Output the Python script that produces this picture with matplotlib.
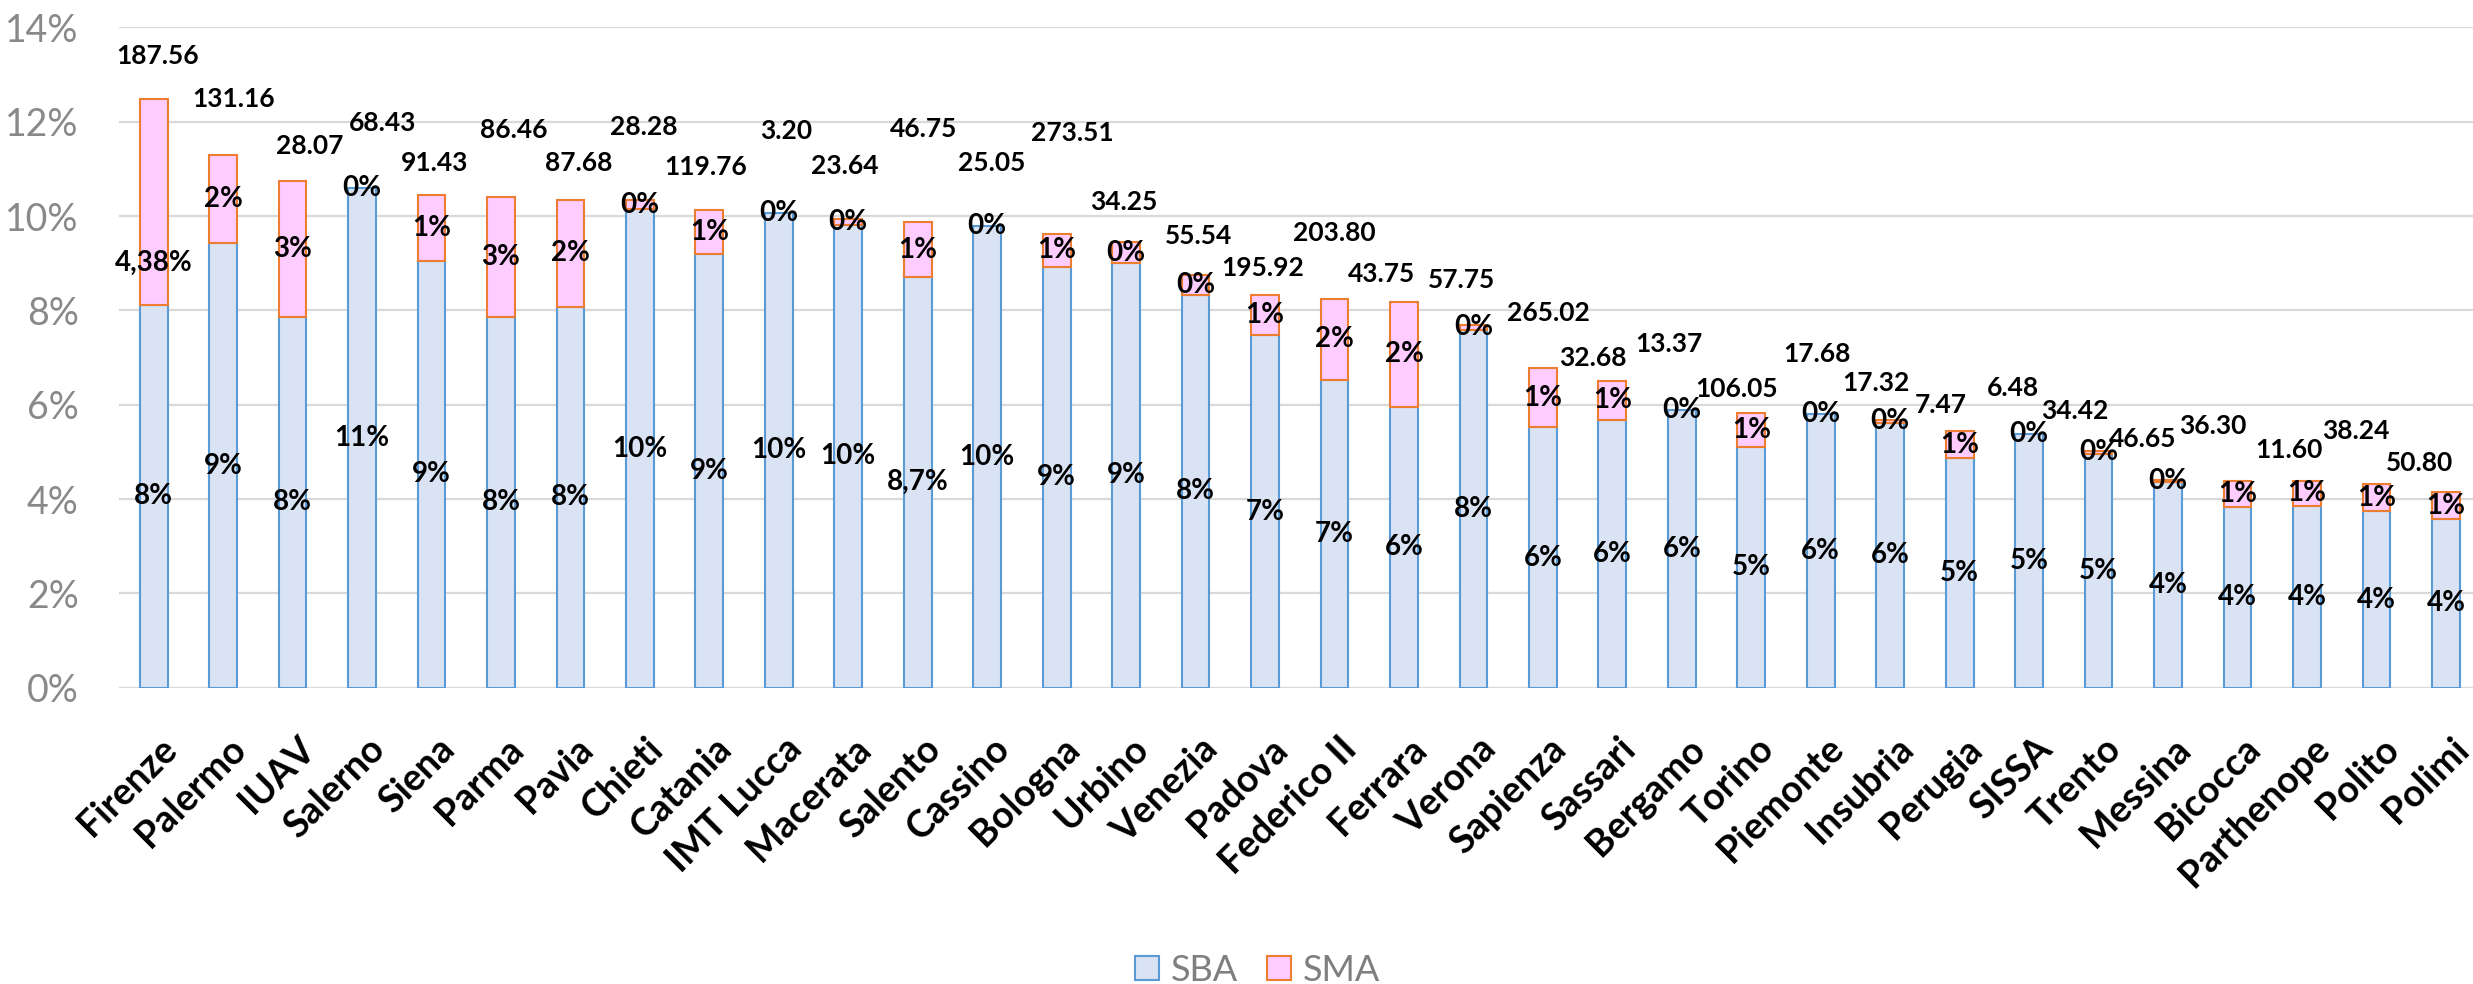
import matplotlib
matplotlib.use("Agg")
import matplotlib.pyplot as plt
import matplotlib.transforms as mtransforms
from matplotlib.patches import Patch
import numpy as np

plt.rcParams['font.family'] = ['Lato', 'DejaVu Sans']

universities = ['Firenze', 'Palermo', 'IUAV', 'Salerno', 'Siena', 'Parma', 'Pavia', 'Chieti',
                'Catania', 'IMT Lucca', 'Macerata', 'Salento', 'Cassino', 'Bologna', 'Urbino',
                'Venezia', 'Padova', 'Federico II', 'Ferrara', 'Verona', 'Sapienza', 'Sassari',
                'Bergamo', 'Torino', 'Piemonte', 'Insubria', 'Perugia', 'SISSA', 'Trento',
                'Messina', 'Bicocca', 'Parthenope', 'Polito', 'Polimi']

# values in percent
sba = [8.12, 9.42, 7.86, 10.59, 9.05, 7.86, 8.07, 10.14, 9.20, 10.07, 9.81, 8.71, 9.79, 8.92,
       9.01, 8.33, 7.47, 6.52, 5.96, 7.58, 5.52, 5.68, 5.89, 5.10, 5.80, 5.61, 4.87, 5.37,
       4.96, 4.36, 3.83, 3.86, 3.74, 3.58]
sma = [4.37, 1.88, 2.88, 0.0, 1.40, 2.55, 2.28, 0.20, 0.92, 0.0, 0.12, 1.16, 0.0, 0.70,
       0.43, 0.43, 0.86, 1.73, 2.21, 0.12, 1.25, 0.83, 0.0, 0.72, 0.0, 0.07, 0.57, 0.0,
       0.06, 0.05, 0.56, 0.53, 0.57, 0.56]

sba_labels = ['8%', '9%', '8%', '11%', '9%', '8%', '8%', '10%', '9%', '10%', '10%', '8,7%',
              '10%', '9%', '9%', '8%', '7%', '7%', '6%', '8%', '6%', '6%', '6%', '5%', '6%',
              '6%', '5%', '5%', '5%', '4%', '4%', '4%', '4%', '4%']
sma_labels = ['4,38%', '2%', '3%', '0%', '1%', '3%', '2%', '0%', '1%', '0%', '0%', '1%', '0%',
              '1%', '0%', '0%', '1%', '2%', '2%', '0%', '1%', '1%', '0%', '1%', '0%', '0%',
              '1%', '0%', '0%', '0%', '1%', '1%', '1%', '1%']
amounts = ['187.56', '131.16', '28.07', '68.43', '91.43', '86.46', '87.68', '28.28', '119.76',
           '3.20', '23.64', '46.75', '25.05', '273.51', '34.25', '55.54', '195.92', '203.80',
           '43.75', '57.75', '265.02', '32.68', '13.37', '106.05', '17.68', '17.32', '7.47',
           '6.48', '34.42', '46.65', '36.30', '11.60', '38.24', '50.80']

# where the amount labels were placed by hand (y in %, x shift in bar slots)
amount_y = [13.39, 12.49, 11.48, 11.98, 11.13, 11.83, 11.13, 11.88, 11.05, 11.81, 11.07, 11.85,
            11.12, 11.75, 10.30, 9.58, 8.89, 9.63, 8.78, 8.64, 7.94, 6.98, 7.29, 6.33, 7.07,
            6.47, 6.00, 6.35, 5.86, 5.27, 5.54, 5.04, 5.44, 4.76]
amount_dx = [0.05, 0.15, 0.25, 0.29, 0.05, 0.18, 0.12, 0.06, -0.06, 0.10, -0.05, 0.08, 0.07,
             0.23, -0.03, 0.04, -0.04, 0.0, -0.32, -0.17, 0.08, -0.28, -0.18, -0.21, -0.06,
             -0.21, -0.27, -0.23, -0.34, -0.37, -0.36, -0.26, -0.30, -0.38]

fig = plt.figure(figsize=(24.73, 9.84), dpi=100)
ax = fig.add_axes([0.0481, 0.3011, 0.9519, 0.6711])

x = np.arange(len(universities))
sba = np.array(sba)
sma = np.array(sma)

ax.bar(x, sba, width=0.40, color='#DAE3F3', edgecolor='#5B9BD5', linewidth=1.5, zorder=2)
sma_edges = ['#ED7D31' if v > 0 else 'none' for v in sma]
ax.bar(x, sma, bottom=sba, width=0.40, color='#FFCCFF', edgecolor=sma_edges, linewidth=1.5, zorder=2)

for i in range(len(x)):
    ax.text(x[i], sba[i] / 2, sba_labels[i], ha='center', va='center',
            fontsize=20, fontweight='bold', zorder=3)
    y_sma = sba[i] + sma[i] / 2
    if i == 0:
        y_sma = 9.01  # moved by hand in the original
    ax.text(x[i], y_sma, sma_labels[i], ha='center', va='center',
            fontsize=20, fontweight='bold', zorder=3)
    ax.text(x[i] + amount_dx[i], amount_y[i], amounts[i], ha='center', va='center',
            fontsize=19, fontweight='bold', zorder=3)

ax.set_xlim(-0.5, 33.39)
ax.set_ylim(0, 14)
ax.set_yticks(np.arange(0, 15, 2))
ax.set_yticklabels(['{}%'.format(v) for v in range(0, 15, 2)], fontsize=27, color='#898989')
ax.yaxis.grid(True, color='#D9D9D9', linewidth=1.6)
ax.set_axisbelow(True)
for s in ax.spines.values():
    s.set_visible(False)
ax.tick_params(axis='y', length=0, pad=29)

ax.set_xticks(x)
ax.set_xticklabels(universities, rotation=45, ha='right', va='center', rotation_mode='anchor',
                   fontsize=27, fontweight='bold')
ax.tick_params(axis='x', length=0, pad=40)
shift = mtransforms.ScaledTranslation(17 / 100, 0, fig.dpi_scale_trans)
for lab in ax.get_xticklabels():
    lab.set_transform(lab.get_transform() + shift)

handles = [Patch(facecolor='#DAE3F3', edgecolor='#5B9BD5', linewidth=1.5, label='SBA'),
           Patch(facecolor='#FFCCFF', edgecolor='#ED7D31', linewidth=1.5, label='SMA')]
leg = fig.legend(handles=handles, loc='center', bbox_to_anchor=(0.5085, 0.014), ncol=2,
                 frameon=False, fontsize=26, handlelength=0.67, handleheight=0.67,
                 handletextpad=0.33, columnspacing=0.8)
for t in leg.get_texts():
    t.set_color('#7F7F7F')

fig.savefig('out.png', dpi=100, facecolor='white')
